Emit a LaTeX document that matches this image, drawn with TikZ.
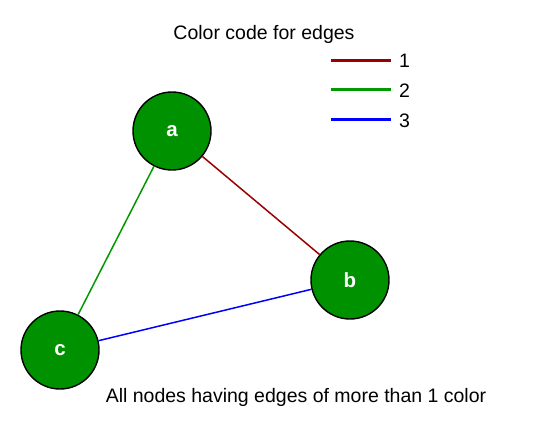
\documentclass[tikz,border=0pt]{standalone}
\usepackage{fontspec}
\setmainfont{Liberation Sans}
\usetikzlibrary{positioning,calc}
\definecolor{edgered}{RGB}{153,0,0}
\definecolor{edgegreen}{RGB}{0,153,0}
\definecolor{edgeblue}{RGB}{0,0,255}
\definecolor{nodegreen}{RGB}{0,145,0}
\tikzset{
  x=1pt, y=-1pt,
  vertex/.style = {circle, draw=black, line width=1.4pt, fill=nodegreen, minimum size=78pt,
    inner sep=0pt, text=white, font=\bfseries\fontsize{20.5}{22}\selectfont},
  label_txt/.style = {inner sep=0pt, font=\fontsize{19.5}{22}\selectfont},
  edge_1/.style = {draw=edgered, line width=1.5pt},
  edge_2/.style = {draw=edgegreen, line width=1.5pt},
  edge_3/.style = {draw=edgeblue, line width=1.5pt},
  key_line/.style = {line width=3pt, shorten >=8pt}
}

\begin{document}
\begin{tikzpicture}
	\useasboundingbox (0,0) rectangle (538,433);
	% graph
	\node [vertex] (a) at (172,131) {a};
	\node [vertex] (b) at (350,280) {b};
	\node [vertex] (c) at (60,350) {c};
	\draw [edge_1] (a) -- (b);
	\draw [edge_2] (a) -- (c);
	\draw [edge_3] (b) -- (c);
	% legend
	\node [label_txt] (title) at (264,34) {Color code for edges};
	\node [label_txt, anchor=west] (k1) at (399,61) {1};
	\node [label_txt, anchor=west] (k2) at (399,91) {2};
	\node [label_txt, anchor=west] (k3) at (399,121) {3};
	\coordinate (l1) at (331,61);
	\coordinate (l2) at (331,90);
	\coordinate (l3) at (331,120);
	\draw [key_line, draw=edgered] (l1) -- (l1 -| k1.west);
	\draw [key_line, draw=edgegreen] (l2) -- (l2 -| k2.west);
	\draw [key_line, draw=edgeblue] (l3) -- (l3 -| k3.west);
	% caption
	\node [label_txt] (note) at (296,397) {All nodes having edges of more than 1 color};
\end{tikzpicture}
\end{document}
